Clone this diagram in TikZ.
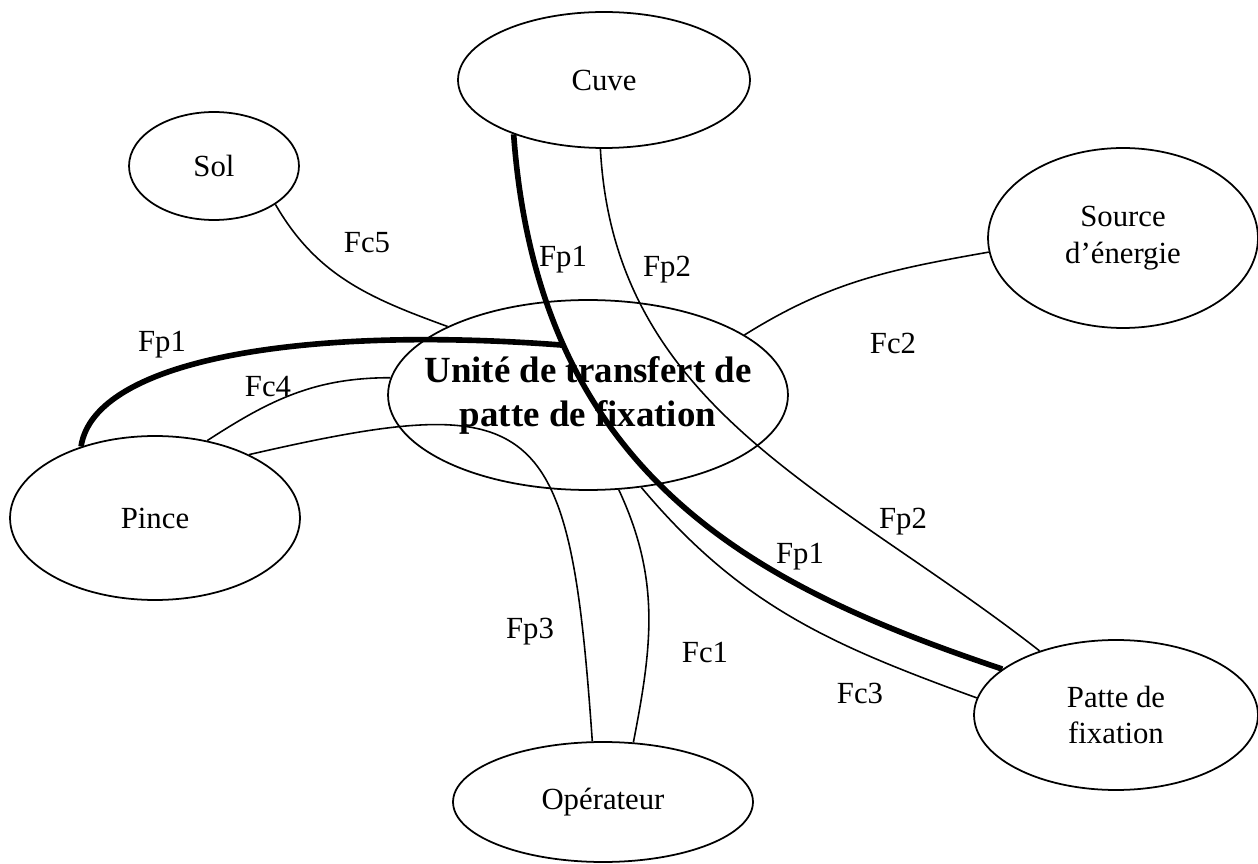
\documentclass[tikz,border=0pt]{standalone}
\usepackage{fontspec}
\setmainfont{Liberation Serif}
\usetikzlibrary{shapes.geometric}

\begin{document}
\begin{tikzpicture}[x=0.02cm,y=0.02cm,
  bulle/.style={draw, ellipse, line width=1pt, inner sep=0pt, align=center,
    font=\fontsize{17.5}{21}\selectfont},
  lien/.style={line width=0.9pt},
  fort/.style={line width=3.2pt},
  etiq/.style={inner sep=1pt, font=\fontsize{17.5}{21}\selectfont}]
\useasboundingbox (0,0) rectangle (1258,863);

\node[bulle, minimum width=5.84cm, minimum height=2.72cm] (cuve) at (604,783) {Cuve};
\node[bulle, minimum width=3.4cm, minimum height=2.16cm] (sol) at (214,697) {Sol};
\node[bulle, minimum width=5.4cm, minimum height=3.6cm] (source) at (1123,625) {Source\\d'énergie};
\node[bulle, minimum width=8cm, minimum height=3.8cm, inner xsep=-14pt,
  font=\fontsize{21}{25}\selectfont\bfseries] (unite) at (588,468) {Unité de transfert de\\patte de fixation};
\node[bulle, minimum width=5.8cm, minimum height=3.28cm] (pince) at (155,345) {Pince};
\node[bulle, minimum width=5.68cm, minimum height=3cm] (patte) at (1116,148) {Patte de\\fixation};
\node[bulle, minimum width=6cm, minimum height=2.4cm] (oper) at (603,61) {Opérateur};

\draw[lien] (sol.-32) to[out=-60, in=160] (unite.154);
\draw[lien] (cuve.-93) to[out=-87, in=142] (patte.140);
\draw[lien] (unite.21) to[out=32, in=190] (source.186);
\draw[lien] (unite.-60) to[out=-50, in=160] (patte.173);
\draw[lien] (unite.-72) to[out=-65, in=79] (oper.63);
\draw[lien] (pince.34) .. controls +(292,67) and +(-23,329) .. (oper.100);
\draw[lien] (pince.56) to[out=33, in=180] (unite.175);

\draw[fort] (cuve.211) .. controls +(25,-346) and +(-241,81) .. (patte.158)
  coordinate[pos=0.24] (jonction);
\draw[fort] (pince.136) .. controls +(13,87) and +(-260,20) .. (jonction);

\node[etiq] (fc5) at (367,620) {Fc5};
\node[etiq] (fp1a) at (563,603) {Fp1};
\node[etiq] (fp2a) at (667,593) {Fp2};
\node[etiq] (fc2) at (893,520) {Fc2};
\node[etiq] (fp1b) at (162,518) {Fp1};
\node[etiq] (fc4) at (268,476) {Fc4};
\node[etiq] (fp2b) at (903,341) {Fp2};
\node[etiq] (fp1c) at (800,306) {Fp1};
\node[etiq] (fp3) at (530,231) {Fp3};
\node[etiq] (fc1) at (705,210) {Fc1};
\node[etiq] (fc3) at (860,170) {Fc3};
\end{tikzpicture}
\end{document}
